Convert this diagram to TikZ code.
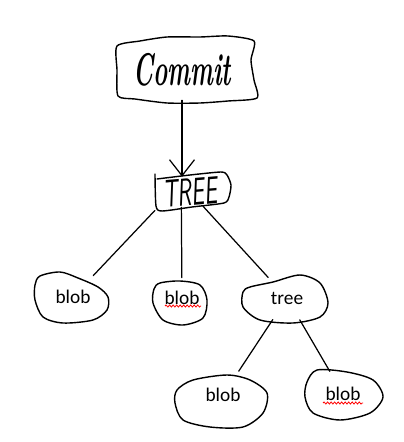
\documentclass[tikz,border=0pt]{standalone}
\usepackage{fontspec}
\newfontfamily\calibri{Carlito}
\usetikzlibrary{arrows.meta,shapes.geometric,decorations.pathmorphing}

\begin{document}
\begin{tikzpicture}[x=0.02cm, y=-0.02cm,
    sketch/.style={line width=0.8pt, line join=round, line cap=round},
    link/.style={line width=0.7pt, line cap=round},
    blobnode/.style={ellipse, inner sep=0pt, font=\calibri\fontsize{11}{13}\selectfont},
    spell/.style={red, line width=0.45pt, decorate, decoration={snake, amplitude=0.6pt, segment length=2pt}}]
    \useasboundingbox (0,0) rectangle (404,442);

    % Nodes
    \node[rectangle, minimum width=2.8cm, minimum height=1.2cm, inner sep=0pt] at (182, 70) (commit)
        {\scalebox{0.53}[1]{\fontsize{26}{28}\selectfont\bfseries\itshape Commit}};
    \node[rectangle, minimum width=1.45cm, minimum height=0.6cm, inner sep=0pt, rotate=5] at (190, 192) (treebox)
        {\scalebox{0.59}[1]{\fontsize{22}{24}\selectfont\sffamily\itshape TREE}};
    \node[blobnode, minimum width=1.5cm, minimum height=1cm] at (73, 297) (blob1) {blob};
    \node[blobnode, minimum width=1.05cm, minimum height=0.8cm] at (182, 298) (blob2) {blob};
    \node[blobnode, minimum width=1.7cm, minimum height=0.9cm] at (287, 298) (subtree) {tree};
    \node[blobnode, minimum width=1.8cm, minimum height=1cm] at (223, 395) (blob3) {blob};
    \node[blobnode, minimum width=1.55cm, minimum height=0.95cm] at (343, 394) (blob4) {blob};

    % hand drawn outlines
    \draw[sketch] plot[smooth cycle, tension=0.4] coordinates {(117,46) (140,41) (167,37) (200,37) (228,36) (254,41)
        (251,60) (254,80) (257,98) (228,101) (200,103) (167,103) (135,99) (118,96) (117,70)};
    \draw[sketch] plot[smooth, tension=0.4] coordinates {(155,174) (156,206) (162,211) (192,207) (224,203)
        (229,197) (231,185) (227,175) (221,172) (190,175) (157,179)};
    \draw[sketch] plot[smooth cycle] coordinates {(40,276) (60,272) (78,278) (98,287) (108,297) (107,310)
        (93,320) (63,323) (43,317) (35,300) (35,285)};
    \draw[sketch] plot[smooth cycle] coordinates {(160,283) (180,281) (200,285) (207,300) (203,318)
        (183,325) (163,320) (153,303) (154,289)};
    \draw[sketch] plot[smooth cycle] coordinates {(250,287) (273,282) (300,275) (320,283) (328,303)
        (320,317) (293,323) (260,320) (243,307) (243,292)};
    \draw[sketch] plot[smooth cycle] coordinates {(177,390) (193,380) (227,375) (250,380) (267,393)
        (263,413) (243,427) (210,427) (183,420) (175,403)};
    \draw[sketch] plot[smooth cycle] coordinates {(317,370) (347,372) (373,380) (383,397) (370,413)
        (340,420) (313,413) (305,397) (307,382)};

    % Edges
    \draw[link, -{Straight Barb[length=3.2mm, width=5mm]}] (commit.south) -- (commit.south |- treebox.north);
    \draw[link] (treebox.south west) -- (blob1);
    \draw[link] ([xshift=-0.2cm]treebox.south) -- (blob2);
    \draw[link] (treebox) -- (subtree);
    \draw[link] (subtree) -- (blob3);
    \draw[link] (subtree) -- (blob4);

    % spell check marks
    \draw[spell] (165,306) -- (201,306);
    \draw[spell] (323,403) -- (363,403);

  \end{tikzpicture}
\end{document}
